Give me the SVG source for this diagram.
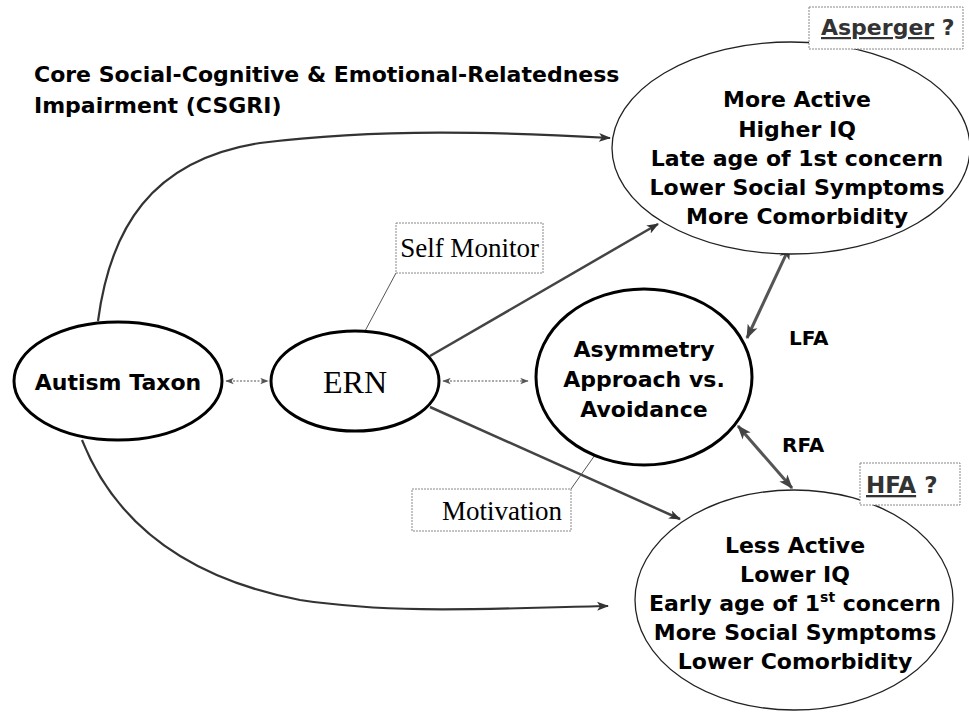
<svg xmlns="http://www.w3.org/2000/svg" width="969" height="713" viewBox="0 0 969 713">
<defs>
<marker id="ah" viewBox="0 0 12 10" refX="11" refY="5" markerWidth="12" markerHeight="10" markerUnits="userSpaceOnUse" orient="auto-start-reverse">
<path d="M0,0.5 L12,5 L0,9.5 L3,5 z" fill="#333"/>
</marker>
<marker id="ahs" viewBox="0 0 12 10" refX="11" refY="5" markerWidth="9" markerHeight="7" markerUnits="userSpaceOnUse" orient="auto-start-reverse">
<path d="M0,0.5 L12,5 L0,9.5 L3,5 z" fill="#555"/>
</marker>
<marker id="ahb" viewBox="0 0 12 10" refX="11" refY="5" markerWidth="15" markerHeight="12" markerUnits="userSpaceOnUse" orient="auto-start-reverse">
<path d="M0,0.5 L12,5 L0,9.5 L3,5 z" fill="#444"/>
</marker>
</defs>
<style>
.bold{font-family:"DejaVu Sans",Verdana,sans-serif;font-weight:bold;fill:#000}
.serif{font-family:"Liberation Serif","Times New Roman",serif;fill:#000}
.thick{fill:#fff;stroke:#000;stroke-width:3}
.thin{fill:#fff;stroke:#222;stroke-width:1.3}
.box{fill:#fff;stroke:#888;stroke-width:1;stroke-dasharray:2 1}
.curve{fill:none;stroke:#333;stroke-width:2.2}
.line{fill:none;stroke:#444;stroke-width:2.5}
.dot{fill:none;stroke:#555;stroke-width:1.2;stroke-dasharray:2 1.5}
.dbl{fill:none;stroke:#555;stroke-width:3}
.lead{fill:none;stroke:#555;stroke-width:1}
.gray{fill:#333}
</style>
<rect width="969" height="713" fill="#fff"/>

<g id="title">
<text class="bold" x="34" y="82" font-size="22">Core Social-Cognitive &amp; Emotional-Relatedness</text>
<text class="bold" x="34" y="113" font-size="22">Impairment (CSGRI)</text>
</g>

<g id="connectors">
<path class="curve" d="M98 321 C110 230, 150 160, 260 143 C380 128, 500 132, 610 138" marker-end="url(#ah)"/>
<path class="curve" d="M82 440 C110 510, 170 575, 300 600 C400 615, 500 608, 608 606" marker-end="url(#ah)"/>
<path class="dot" d="M226 381 L268 381" marker-start="url(#ahs)" marker-end="url(#ahs)"/>
<path class="dot" d="M443 381 L528 381" marker-start="url(#ahs)" marker-end="url(#ahs)"/>
<path class="line" d="M430 356 L658 224" marker-end="url(#ah)"/>
<path class="line" d="M430 407 L680 519" marker-end="url(#ah)"/>
<path class="dbl" d="M790 246 L747 338" marker-start="url(#ahb)" marker-end="url(#ahb)"/>
<path class="dbl" d="M738 426 L792 488" marker-start="url(#ahb)" marker-end="url(#ahb)"/>
<path class="lead" d="M396 273 L365 331"/>
<path class="lead" d="M571 489 L595 455"/>
</g>

<g id="autism-taxon">
<ellipse class="thick" cx="118" cy="381" rx="104" ry="59"/>
<text class="bold" x="118" y="390" font-size="22" text-anchor="middle">Autism Taxon</text>
</g>

<g id="ern">
<ellipse class="thick" cx="355" cy="381" rx="84" ry="50"/>
<text class="serif" x="355" y="393" font-size="32" text-anchor="middle">ERN</text>
</g>

<g id="asymmetry">
<ellipse class="thick" cx="644" cy="377" rx="108" ry="88"/>
<text class="bold" x="644" y="357" font-size="22" text-anchor="middle">Asymmetry</text>
<text class="bold" x="644" y="387" font-size="22" text-anchor="middle">Approach vs.</text>
<text class="bold" x="644" y="417" font-size="22" text-anchor="middle">Avoidance</text>
</g>

<g id="asperger-group">
<ellipse class="thin" cx="791" cy="148" rx="179" ry="106"/>
<text class="bold" x="797" y="107" font-size="22" text-anchor="middle">More Active</text>
<text class="bold" x="797" y="137" font-size="22" text-anchor="middle">Higher IQ</text>
<text class="bold" x="797" y="166" font-size="22" text-anchor="middle">Late age of 1st concern</text>
<text class="bold" x="797" y="195" font-size="22" text-anchor="middle">Lower Social Symptoms</text>
<text class="bold" x="797" y="224" font-size="22" text-anchor="middle">More Comorbidity</text>
</g>

<g id="hfa-group">
<ellipse class="thin" cx="794" cy="600" rx="159" ry="110"/>
<text class="bold" x="795" y="553" font-size="22" text-anchor="middle">Less Active</text>
<text class="bold" x="795" y="582" font-size="22" text-anchor="middle">Lower IQ</text>
<text class="bold" x="795" y="611" font-size="22" text-anchor="middle">Early age of 1<tspan font-size="14" dy="-9">st</tspan><tspan dy="9">  concern</tspan></text>
<text class="bold" x="795" y="640" font-size="22" text-anchor="middle">More Social Symptoms</text>
<text class="bold" x="795" y="669" font-size="22" text-anchor="middle">Lower Comorbidity</text>
</g>

<g id="asperger-label">
<rect class="box" x="809" y="7" width="154" height="42"/>
<text class="bold gray" x="821" y="35" font-size="22"><tspan text-decoration="underline">Asperger</tspan> ?</text>
</g>

<g id="hfa-label">
<rect class="box" x="860" y="463" width="100" height="42"/>
<text class="bold gray" x="866" y="493" font-size="23"><tspan text-decoration="underline">HFA</tspan> ?</text>
</g>

<g id="lfa-label">
<text class="bold" x="789" y="345" font-size="20">LFA</text>
</g>

<g id="rfa-label">
<text class="bold" x="782" y="452" font-size="20">RFA</text>
</g>

<g id="self-monitor">
<rect class="box" x="396" y="223" width="147" height="50"/>
<text class="serif" x="469.5" y="257" font-size="27" text-anchor="middle">Self Monitor</text>
</g>

<g id="motivation">
<rect class="box" x="412" y="489" width="159" height="42"/>
<text class="serif" x="562" y="520" font-size="27" text-anchor="end">Motivation</text>
</g>
</svg>
